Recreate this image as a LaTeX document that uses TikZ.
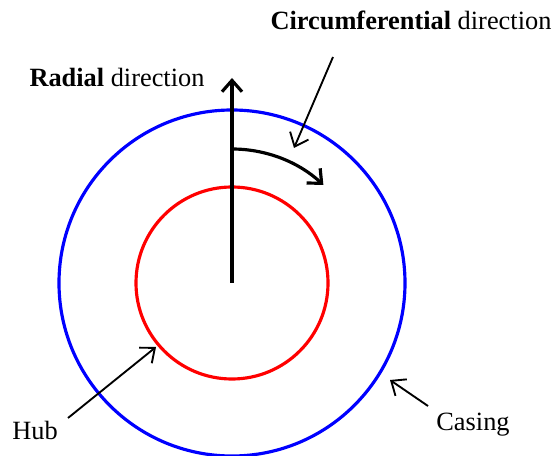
\documentclass[tikz,border=0pt]{standalone}
\usepackage{fontspec}
\setmainfont{Liberation Serif}
\usepackage{tikz}
\usetikzlibrary{arrows.meta,positioning,calc}

\begin{document}
\begin{tikzpicture}[
  x=0.03cm, y=-0.03cm,
  lab/.style={font=\fontsize{22.5}{27}\selectfont, inner sep=0pt},
  ring/.style={line width=2.7pt},
  dirarrow/.style={line width=2.7pt, -{Straight Barb[length=3.4mm,width=6mm]}},
  pointer/.style={line width=1.6pt, -{Straight Barb[length=3.6mm,width=6mm]}}
]
\useasboundingbox (0,0) rectangle (555,456);
\coordinate (O) at (232,283);
% hub and casing
\draw[ring, red] (O) circle[radius=2.88cm];
\draw[ring, blue] (O) circle[radius=5.19cm];
% directions
\coordinate (rtip) at (232,78);
\draw[dirarrow] (O) -- (rtip);
\coordinate (arcstart) at (232,149);
\draw[dirarrow] (arcstart) arc[start angle=90, end angle=47, radius=4.02cm];
% labels
\node[lab, anchor=base] (radial) at (117,87) {\textbf{Radial} direction};
\node[lab, anchor=base] (circum) at (411,30) {\textbf{Circumferential} direction};
\node[lab, anchor=base] (hub) at (35,439) {Hub};
\node[lab, anchor=base] (casing) at (473,430) {Casing};
% pointers
\coordinate (cfrom) at (333,57);
\coordinate (cto) at (294,148);
\coordinate (hfrom) at (68,418);
\coordinate (hto) at (156,347);
\coordinate (kfrom) at (428,406);
\coordinate (kto) at (390,380);
\draw[pointer] (cfrom) -- (cto);
\draw[pointer] (hfrom) -- (hto);
\draw[pointer] (kfrom) -- (kto);
\end{tikzpicture}
\end{document}
